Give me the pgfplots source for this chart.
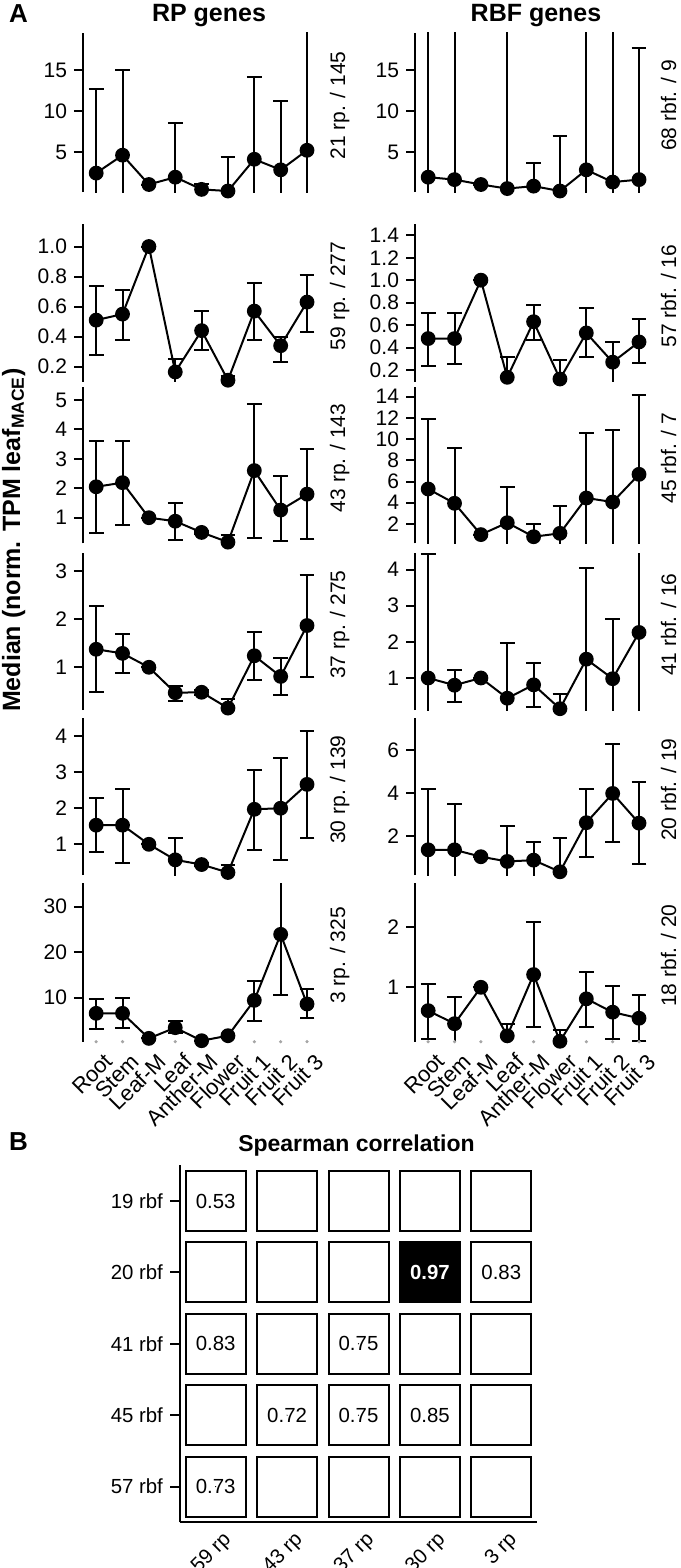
\documentclass[border=0pt]{standalone}
\usepackage{pgfplots}
\pgfplotsset{compat=1.18}
\usepackage{fontspec}
\setmainfont{Liberation Sans}
\pgfplotsset{
  panel/.style={
    scale only axis, anchor=south west, width=118.6pt,
    xmin=-0.5, xmax=8.5,
    axis lines*=left, axis line style={-, line width=1pt},
    x axis line style={draw=none},
    xtick={0,...,8}, xticklabels={},
    xtick style={draw=none},
    ytick style={black, line width=1pt},
    major tick length=4.5pt, ytick align=outside, xtick align=inside,
    tick label style={font=\fontsize{10.5}{12}\selectfont},
    /pgf/number format/assume math mode=true,
    clip=true,
  },
  series/.style={black, line width=1pt, mark=*, mark size=3.2pt,
    error bars/y dir=both, error bars/y explicit,
    error bars/error bar style={line width=1pt, black},
    error bars/error mark options={rotate=90, black, line width=1pt, mark size=3.7pt}},
  bottomlabels/.style={xticklabels={Root,Stem,Leaf-M,Leaf,Anther-M,Flower,Fruit 1,Fruit 2,Fruit 3},
    xticklabel style={xshift=3.5pt, yshift=-5pt, rotate=45, anchor=north east, inner sep=0pt,
      font=\fontsize{11}{12}\selectfont}},
}
\newcommand{\panelplot}[1]{\addplot[series] table[row sep=\\, x=x, y=y,
  y error plus expr=\thisrow{hi}-\thisrow{y},
  y error minus expr=\thisrow{y}-\thisrow{lo}] {#1};}
\newcommand{\sidelabel}[3]{\node[rotate=90, anchor=base, font=\fontsize{10.5}{12}\selectfont] at (#1,#2) {#3};}
\begin{document}
\begin{tikzpicture}
\useasboundingbox (0,0) rectangle (340pt,-784pt);
% titles
\node[anchor=base west, font=\bfseries\fontsize{13}{15}\selectfont] at (1pt,-11.3pt) {A};
\node[anchor=base, font=\bfseries\fontsize{12.5}{15}\selectfont] at (104.5pt,-10.85pt) {RP genes};
\node[anchor=base, font=\bfseries\fontsize{12.5}{15}\selectfont] at (268pt,-10.85pt) {RBF genes};
\node[rotate=90, anchor=base, font=\bfseries\fontsize{12.5}{15}\selectfont] at (10pt,-270pt) {Median (norm. TPM leaf\textsubscript{MACE})};

% ---------------- Row 1 ----------------
\begin{axis}[panel, at={(41.5pt,-96pt)}, height=79.5pt, ymin=0.08, ymax=19.6, ytick={5,10,15}]
\panelplot{x y hi lo\\
0 2.4 12.7 -1\\
1 4.6 15.1 -1\\
2 1.0 1.0 1.0\\
3 1.9 8.5 -1\\
4 0.4 1.1 -1\\
5 0.2 4.4 -1\\
6 4.1 14.2 -1\\
7 2.8 11.3 -1\\
8 5.2 30 -1\\}
\end{axis}
\begin{axis}[panel, at={(207.5pt,-96pt)}, height=79.5pt, ymin=0.08, ymax=19.6, ytick={5,10,15}]
\panelplot{x y hi lo\\
0 1.9 30 -1\\
1 1.6 30 -1\\
2 1.0 1.0 1.0\\
3 0.5 30 -1\\
4 0.8 3.6 -1\\
5 0.2 6.9 -1\\
6 2.8 30 -1\\
7 1.3 30 -1\\
8 1.6 17.8 -1\\}
\end{axis}
\sidelabel{172.5pt}{-52.75pt}{21 rp. / 145}
\sidelabel{338pt}{-52.75pt}{68 rbf. / 9}

% ---------------- Row 2 ----------------
\begin{axis}[panel, at={(41.5pt,-190.85pt)}, height=78.85pt, ymin=0.10, ymax=1.15,
  ytick={0.2,0.4,0.6,0.8,1.0}, yticklabels={0.2,0.4,0.6,0.8,1.0}]
\panelplot{x y hi lo\\
0 0.51 0.74 0.28\\
1 0.55 0.71 0.38\\
2 1.0 1.0 1.0\\
3 0.165 0.25 0.0\\
4 0.44 0.57 0.31\\
5 0.11 0.14 0.0\\
6 0.57 0.76 0.38\\
7 0.34 0.40 0.23\\
8 0.63 0.81 0.43\\}
\end{axis}
\begin{axis}[panel, at={(207.5pt,-190.85pt)}, height=78.85pt, ymin=0.096, ymax=1.5,
  ytick={0.2,0.4,0.6,0.8,1.0,1.2,1.4}, yticklabels={0.2,0.4,0.6,0.8,1.0,1.2,1.4}]
\panelplot{x y hi lo\\
0 0.48 0.71 0.24\\
1 0.48 0.71 0.25\\
2 1.0 1.0 1.0\\
3 0.135 0.32 0.0\\
4 0.63 0.78 0.47\\
5 0.12 0.29 0.0\\
6 0.53 0.75 0.32\\
7 0.27 0.45 0.0\\
8 0.45 0.65 0.26\\}
\end{axis}
\sidelabel{172.5pt}{-148pt}{59 rp. / 277}
\sidelabel{338pt}{-148pt}{57 rbf. / 16}

% ---------------- Row 3 ----------------
\begin{axis}[panel, at={(41.5pt,-271.65pt)}, height=78.3pt, ymin=0.13, ymax=5.45, ytick={1,2,3,4,5}]
\panelplot{x y hi lo\\
0 2.05 3.62 0.47\\
1 2.19 3.62 0.74\\
2 1.0 1.0 1.0\\
3 0.88 1.50 0.24\\
4 0.50 0.55 0.45\\
5 0.17 0.42 0.0\\
6 2.60 4.85 0.32\\
7 1.26 2.41 0.20\\
8 1.80 3.33 0.26\\}
\end{axis}
\begin{axis}[panel, at={(207.5pt,-271.65pt)}, height=78.3pt, ymin=0.18, ymax=14.94, ytick={2,4,6,8,10,12,14}]
\panelplot{x y hi lo\\
0 5.30 11.86 -1\\
1 3.95 9.19 -1\\
2 1.0 1.0 1.0\\
3 2.12 5.45 -1\\
4 0.80 2.0 -1\\
5 1.12 3.66 -1\\
6 4.45 10.6 -1\\
7 4.07 10.86 -1\\
8 6.68 14.16 -1\\}
\end{axis}
\sidelabel{172.5pt}{-229pt}{43 rp. / 143}
\sidelabel{338pt}{-229pt}{45 rbf. / 7}

% ---------------- Row 4 ----------------
\begin{axis}[panel, at={(41.5pt,-355pt)}, height=78.35pt, ymin=0.11, ymax=3.375, ytick={1,2,3}]
\panelplot{x y hi lo\\
0 1.375 2.28 0.48\\
1 1.29 1.69 0.875\\
2 1.0 1.0 1.0\\
3 0.47 0.62 0.30\\
4 0.48 0.53 0.43\\
5 0.15 0.33 0.0\\
6 1.24 1.73 0.74\\
7 0.81 1.19 0.42\\
8 1.87 2.92 0.79\\}
\end{axis}
\begin{axis}[panel, at={(207.5pt,-355pt)}, height=78.35pt, ymin=0.114, ymax=4.45, ytick={1,2,3,4}]
\panelplot{x y hi lo\\
0 1.0 4.44 -1\\
1 0.80 1.21 0.33\\
2 1.0 1.0 1.0\\
3 0.44 1.96 -1\\
4 0.81 1.41 0.20\\
5 0.15 0.56 -1\\
6 1.52 4.03 -1\\
7 0.98 2.62 -1\\
8 2.26 10 -1\\}
\end{axis}
\sidelabel{172.5pt}{-312.3pt}{37 rp. / 275}
\sidelabel{338pt}{-312.3pt}{41 rbf. / 16}

% ---------------- Row 5 ----------------
\begin{axis}[panel, at={(41.5pt,-437.5pt)}, height=78.35pt, ymin=0.15, ymax=4.49, ytick={1,2,3,4}]
\panelplot{x y hi lo\\
0 1.53 2.27 0.78\\
1 1.53 2.52 0.47\\
2 1.0 1.0 1.0\\
3 0.57 1.18 0.0\\
4 0.44 0.48 0.40\\
5 0.22 0.42 0.0\\
6 1.97 3.07 0.83\\
7 2.0 3.40 0.57\\
8 2.66 4.15 1.17\\}
\end{axis}
\begin{axis}[panel, at={(207.5pt,-437.5pt)}, height=78.35pt, ymin=0.19, ymax=7.47, ytick={2,4,6}]
\panelplot{x y hi lo\\
0 1.36 4.17 -1\\
1 1.36 3.49 -1\\
2 1.04 1.04 1.04\\
3 0.82 2.47 -1\\
4 0.88 1.72 -1\\
5 0.34 1.89 -1\\
6 2.62 4.20 1.02\\
7 3.98 6.26 1.74\\
8 2.60 4.53 0.70\\}
\end{axis}
\sidelabel{172.5pt}{-394.8pt}{30 rp. / 139}
\sidelabel{338pt}{-394.8pt}{20 rbf. / 19}

% ---------------- Row 6 ----------------
\begin{axis}[panel, bottomlabels, at={(41.5pt,-520.85pt)}, height=79.2pt, ymin=0.33, ymax=35.1, ytick={10,20,30}]
\addplot[only marks, mark=*, mark size=0.6pt, gray!70] coordinates {(0,0.33) (1,0.33) (2,0.33) (3,0.33) (4,0.33) (5,0.33) (6,0.33) (7,0.33) (8,0.33)};
\panelplot{x y hi lo\\
0 6.56 9.78 3.04\\
1 6.56 9.93 3.26\\
2 1.06 1.06 1.06\\
3 3.41 4.95 2.16\\
4 0.55 0.55 0.55\\
5 1.65 1.65 1.65\\
6 9.41 13.66 4.8\\
7 23.9 50 10.59\\
8 8.61 11.9 5.46\\}
\end{axis}
\begin{axis}[panel, bottomlabels, at={(207.5pt,-520.85pt)}, height=79.2pt, ymin=0.103, ymax=2.715, ytick={1,2}]
\addplot[only marks, mark=*, mark size=0.6pt, gray!70] coordinates {(0,0.103) (1,0.103) (2,0.103) (3,0.103) (4,0.103) (5,0.103) (6,0.103) (7,0.103) (8,0.103)};
\panelplot{x y hi lo\\
0 0.615 1.06 0.15\\
1 0.40 0.84 -1\\
2 1.0 1.0 1.0\\
3 0.20 0.40 -1\\
4 1.21 2.07 0.34\\
5 0.11 0.29 -1\\
6 0.81 1.26 0.35\\
7 0.59 1.02 0.14\\
8 0.49 0.88 0.12\\}
\end{axis}
\sidelabel{172.5pt}{-477.75pt}{3 rp. / 325}
\sidelabel{338pt}{-477.75pt}{18 rbf. / 20}

% ---------------- Panel B ----------------
\node[anchor=base west, font=\bfseries\fontsize{13}{15}\selectfont] at (1pt,-575pt) {B};
\node[anchor=base, font=\bfseries\fontsize{11.5}{14}\selectfont] at (178.25pt,-575.5pt) {Spearman correlation};
\begin{axis}[scale only axis, anchor=south west, at={(90pt,-761.15pt)}, width=178.5pt, height=178.5pt,
  xmin=-0.5, xmax=4.5, ymin=-0.5, ymax=4.5,
  axis lines*=left, axis line style={-, line width=1pt},
  xtick={0,...,4}, xticklabels={59 rp,43 rp,37 rp,30 rp,3 rp},
  ytick={0,...,4}, yticklabels={57 rbf,45 rbf,41 rbf,20 rbf,19 rbf},
  xtick style={draw=none}, ytick style={black, line width=1pt},
  major tick length=5pt, ytick align=outside, xtick align=inside,
  tick label style={font=\fontsize{10.2}{12}\selectfont},
  xticklabel style={xshift=3pt, yshift=-4pt, rotate=45, anchor=north east, inner sep=0pt},
  clip=false]
\addplot[only marks, mark=square*, mark size=15pt, mark options={fill=white, draw=black, line width=1pt}] coordinates {
(0,0) (1,0) (2,0) (3,0) (4,0)
(0,1) (1,1) (2,1) (3,1) (4,1)
(0,2) (1,2) (2,2) (3,2) (4,2)
(0,3) (1,3) (2,3) (4,3)
(0,4) (1,4) (2,4) (3,4) (4,4)};
\addplot[only marks, mark=square*, mark size=15pt, mark options={fill=black, draw=black, line width=1pt}] coordinates {(3,3)};
\addplot[only marks, mark=*, mark size=0.01pt, mark options={draw=none, fill=none},
  nodes near coords, point meta=explicit symbolic,
  every node near coord/.style={anchor=center, font=\fontsize{10.2}{12}\selectfont}]
  coordinates {(0,4) [0.53] (4,3) [0.83] (0,2) [0.83] (2,2) [0.75] (1,1) [0.72] (2,1) [0.75] (3,1) [0.85] (0,0) [0.73]};
\addplot[only marks, mark=*, mark size=0.01pt, mark options={draw=none, fill=none},
  nodes near coords, point meta=explicit symbolic,
  every node near coord/.style={anchor=center, text=white, font=\bfseries\fontsize{10.2}{12}\selectfont}]
  coordinates {(3,3) [0.97]};
\end{axis}
\end{tikzpicture}
\end{document}
